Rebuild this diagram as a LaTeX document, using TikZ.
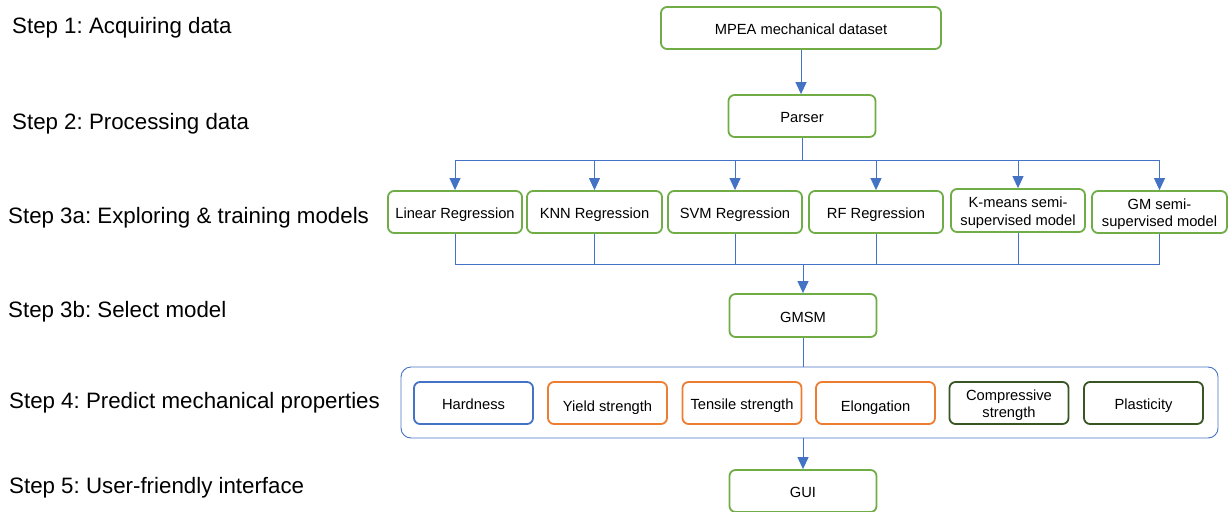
\documentclass[tikz,border=0pt]{standalone}
\usepackage{fontspec}
\setmainfont{Liberation Sans}
\usetikzlibrary{arrows.meta,calc}
\frenchspacing
\definecolor{boxgreen}{HTML}{70AD47}
\definecolor{lineblue}{HTML}{4472C4}
\definecolor{boxorange}{HTML}{ED7D31}
\definecolor{darkgreen}{HTML}{375623}
\newcommand{\toplift}{\rule{0pt}{15pt}}
\tikzset{
  steplabel/.style={anchor=base west,inner sep=0pt,font=\fontsize{22.3}{26}\selectfont},
  gbox/.style={draw=boxgreen,line width=1.8pt,rounded corners=6pt,fill=white,
    minimum height=42pt,inner sep=0pt,align=center,
    font=\fontsize{14.7}{17.5}\selectfont},
  oneline/.style={text height=15pt,text depth=1.5pt},
  pbox/.style={gbox,minimum width=119pt},
  bluebox/.style={pbox,draw=lineblue},
  orbox/.style={pbox,draw=boxorange},
  dgbox/.style={pbox,draw=darkgreen},
  conn/.style={draw=lineblue,line width=1pt},
  arr/.style={conn,-{Triangle[length=12pt,width=11pt]}},
}
\begin{document}
\begin{tikzpicture}[x=1pt,y=-1pt]
\useasboundingbox (0,0) rectangle (1228,511);
% step labels
\node[steplabel] (s1) at (12,34) {Step 1: Acquiring data};
\node[steplabel] (s2) at (12,129) {Step 2: Processing data};
\node[steplabel] (s3a) at (8,223) {Step 3a: Exploring \& training models};
\node[steplabel] (s3b) at (8,317) {Step 3b: Select model};
\node[steplabel] (s4) at (9,408) {Step 4: Predict mechanical properties};
\node[steplabel] (s5) at (9,493) {Step 5: User-friendly interface};

% boxes
\node[gbox,oneline,minimum width=280pt] (mpea) at (801,28) {MPEA mechanical dataset};
\node[gbox,oneline,minimum width=147pt] (parser) at (802,116) {Parser};

\node[gbox,oneline,minimum width=134pt] (lin) at (455,212) {Linear Regression};
\node[gbox,oneline,minimum width=135pt] (knn) at (594.5,212) {KNN Regression};
\node[gbox,oneline,minimum width=134pt] (svm) at (735,212) {SVM Regression};
\node[gbox,oneline,minimum width=134pt] (rf) at (876,212) {RF Regression};
\node[gbox,minimum width=134pt,minimum height=43pt] (km) at (1018,210.5) {\toplift K-means semi-\\supervised model};
\node[gbox,minimum width=135pt] (gm) at (1159.5,212) {\toplift GM semi-\\supervised model};

\node[gbox,oneline,minimum width=147pt,minimum height=43pt] (gmsm) at (803,315.5) {GMSM};

\node[draw=lineblue,line width=0.9pt,rounded corners=10pt,minimum width=817pt,minimum height=71pt,inner sep=0pt] (cont) at (809.5,402.5) {};
\node[bluebox,oneline] (hard) at (473.5,403) {Hardness};
\node[orbox,oneline] (yield) at (607.5,403) {\raisebox{-2pt}{Yield strength}};
\node[orbox,oneline] (tens) at (742,403) {Tensile strength};
\node[orbox,oneline] (elong) at (875.5,403) {\raisebox{-2pt}{Elongation}};
\node[dgbox] (comp) at (1009,403) {\toplift Compressive\\strength};
\node[dgbox,oneline] (plast) at (1143.5,403) {Plasticity};

\node[gbox,oneline,minimum width=147pt] (gui) at (803,491) {GUI};

% connectors
\draw[arr] (mpea.south) -- (mpea.south |- parser.north);
\coordinate (split) at ($(parser.south)+(0,23)$);
\draw[conn] (parser.south) -- (split);
\draw[conn] (split -| lin) -- (split -| gm);
\foreach \n in {lin,knn,svm,rf,km,gm}{
  \draw[arr] (split -| \n) -- (\n.north);
}
\coordinate (join) at (803,264);
\foreach \n in {lin,knn,svm,rf,km,gm}{
  \draw[conn] (\n.south) -- (join -| \n);
}
\draw[conn] (join -| lin) -- (join -| gm);
\draw[arr] (join) -- (gmsm.north);
\draw[conn] (gmsm.south) -- (gmsm.south |- cont.north);
\draw[arr] (gui.north |- cont.south) -- (gui.north);
\end{tikzpicture}
\end{document}
